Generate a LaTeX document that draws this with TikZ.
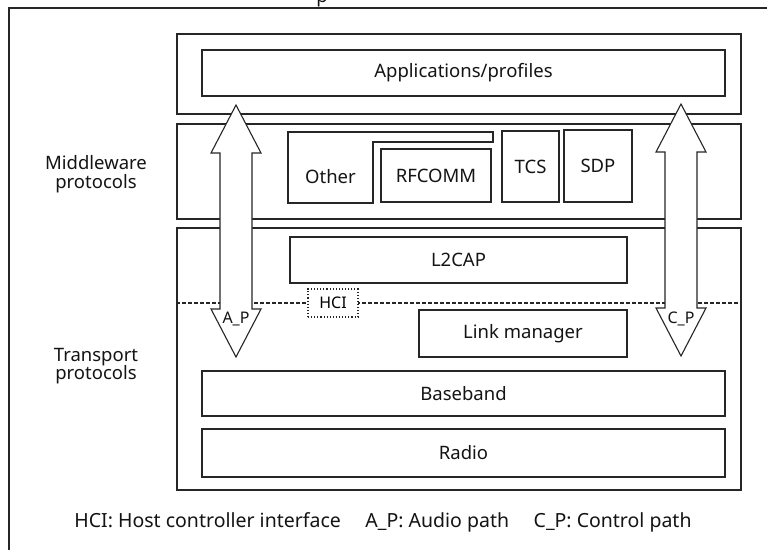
\documentclass[tikz,border=0pt]{standalone}
\usepackage{fontspec}
\setmainfont{Noto Sans}
\begin{document}
\begin{tikzpicture}[x=1pt,y=-1pt,
  ink/.style={draw=black!85, line width=1.1pt},
  layer/.style={ink, fill=white, inner sep=0pt, anchor=center},
  boxtext/.style={font=\fontsize{18.5}{20}\selectfont, text=black!92},
  sidetext/.style={font=\fontsize{18.5}{18.5}\selectfont, text=black!92, align=center},
  smalltext/.style={font=\fontsize{16}{16}\selectfont, text=black!92, inner sep=0pt},
  hciline/.style={draw=black!85, line width=1.1pt, dash pattern=on 4pt off 2pt},
  hcibox/.style={draw=black!85, line width=1.1pt, dotted, fill=white, inner sep=0pt},
  arrowbody/.style={ink, fill=white, line join=miter},
  duplex/.pic={
    \draw[arrowbody] (0,-126) -- (25,-78) -- (16,-78) -- (16,78) -- (25,78)
      -- (0,126) -- (-25,78) -- (-16,78) -- (-16,-78) -- (-25,-78) -- cycle;
  }]
\useasboundingbox (0,0) rectangle (767,550);
\fill[white] (0,0) rectangle (767,550);

% cropped page frame and the tail of the caption above it
\begin{scope}
  \clip (0,0) rectangle (767,550);
  \node[boxtext, anchor=base, inner sep=0pt] (captiontail) at (322,2) {p};
  \coordinate (frameTR) at (767,8);
  \coordinate (frameTL) at (9,8);
  \coordinate (frameBL) at (9,550);
  \draw[ink] (frameTR) -- (frameTL) -- (frameBL);
\end{scope}

% the three protocol layers
\node[layer, minimum width=564pt, minimum height=80pt]  (appsgroup) at (459,74) {};
\node[layer, minimum width=523pt, minimum height=46pt, boxtext] (apps) at (463.5,73) {Applications/profiles};
\node[layer, minimum width=564pt, minimum height=95pt]  (mw) at (459,171.5) {};
\node[layer, minimum width=564pt, minimum height=262pt] (tr) at (459,359) {};

% middleware protocols
\draw[ink] (288,132) -- (493,132) -- (493,142) -- (373,142) -- (373,203) -- (288,203) -- cycle;
\node[boxtext] (other) at (330.5,177) {Other};
\node[layer, minimum width=110pt, minimum height=53pt, boxtext] (rfcomm) at (436,175.5) {RFCOMM};
\node[layer, minimum width=57pt,  minimum height=71pt, boxtext] (tcs) at (530.5,166.5) {TCS};
\node[layer, minimum width=68pt,  minimum height=72pt, boxtext] (sdp) at (598,166) {SDP};

% transport protocols
\node[layer, minimum width=337pt, minimum height=46pt, boxtext] (l2cap) at (458.5,260) {L2CAP};
\node[layer, minimum width=208pt, minimum height=47pt, boxtext] (lm) at (523,333.5) {Link manager};
\node[layer, minimum width=523pt, minimum height=45pt, boxtext] (bb) at (463.5,393.5) {Baseband};
\node[layer, minimum width=523pt, minimum height=48pt, boxtext] (radio) at (463.5,453) {Radio};

% host controller interface boundary
\coordinate (hcimid) at (333,303);
\draw[hciline] (tr.west |- hcimid) -- (tr.east |- hcimid);

% audio and control paths
\pic at (236,231) {duplex};
\pic at (681,230) {duplex};
\node[smalltext] (ap) at (236,319) {A\_P};
\node[smalltext] (cp) at (681,319) {C\_P};

\node[hcibox, minimum width=50pt, minimum height=28pt, font=\fontsize{16}{16}\selectfont] (hci) at (hcimid) {HCI};

% side labels
\node[sidetext] (mwlabel) at (96,174) {Middleware\\protocols};
\node[sidetext] (trlabel) at (96,366) {Transport\\protocols};

% legend
\node[font=\fontsize{19.5}{20}\selectfont, text=black!92] (legend) at (383,522)
  {HCI: Host controller interface\quad\ A\_P: Audio path\quad\ C\_P: Control path};
\end{tikzpicture}
\end{document}
